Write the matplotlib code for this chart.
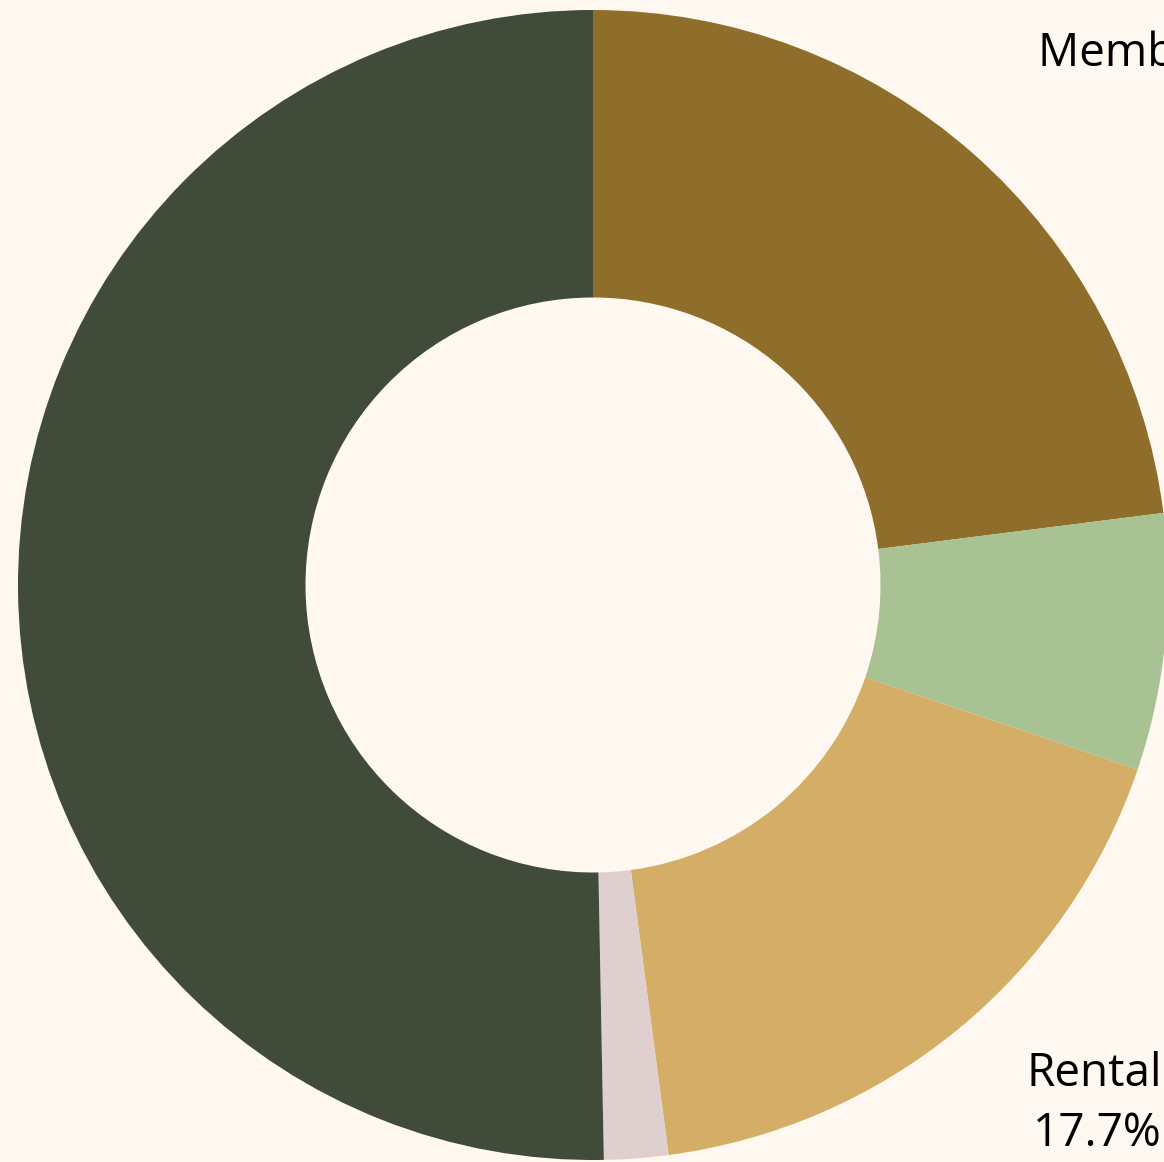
import matplotlib.pyplot as plt

# slice data, clockwise from 12 o'clock
categories = ['Membership', 'Other income', 'Rental', 'Other', 'Main income']
shares = [23.0, 7.2, 17.7, 1.8, 50.3]
colors = ['#8F6E2B', '#A8C294', '#D4AE66', '#E0CFCF', '#404B3A']

BG = '#FEF8F1'

fig = plt.figure(figsize=(11.64, 11.62), dpi=100, facecolor=BG)
ax = fig.add_axes([0, 0, 1, 1])
ax.set_facecolor(BG)

wedges, _ = ax.pie(shares, colors=colors, startangle=90, counterclock=False,
                   radius=1.0, wedgeprops=dict(width=0.5, linewidth=0))

# the reference is a crop of a bigger chart: donut centre at (593, 585) px, r = 575 px
px = 575.0
ax.set_xlim(-593 / px, (1164 - 593) / px)
ax.set_ylim(-(1162 - 585) / px, 585 / px)
ax.set_aspect('equal')
ax.axis('off')

font = ['Open Sans', 'DejaVu Sans']

# outside labels (cut off by the crop, as in the reference)
ax.text((1038 - 593) / px, (585 - 66) / px,
        f"{categories[0]} {shares[0]:.1f}%", ha='left', va='baseline',
        fontsize=33, family=font, color='black')
ax.text((1162 - 593) / px, (585 - 1157) / px,
        f"{categories[2]}\n{shares[2]:.1f}%", ha='right', va='bottom',
        fontsize=33, family=font, color='black', multialignment='right',
        linespacing=1.4)

fig.savefig('out.png', dpi=100, facecolor=BG)
